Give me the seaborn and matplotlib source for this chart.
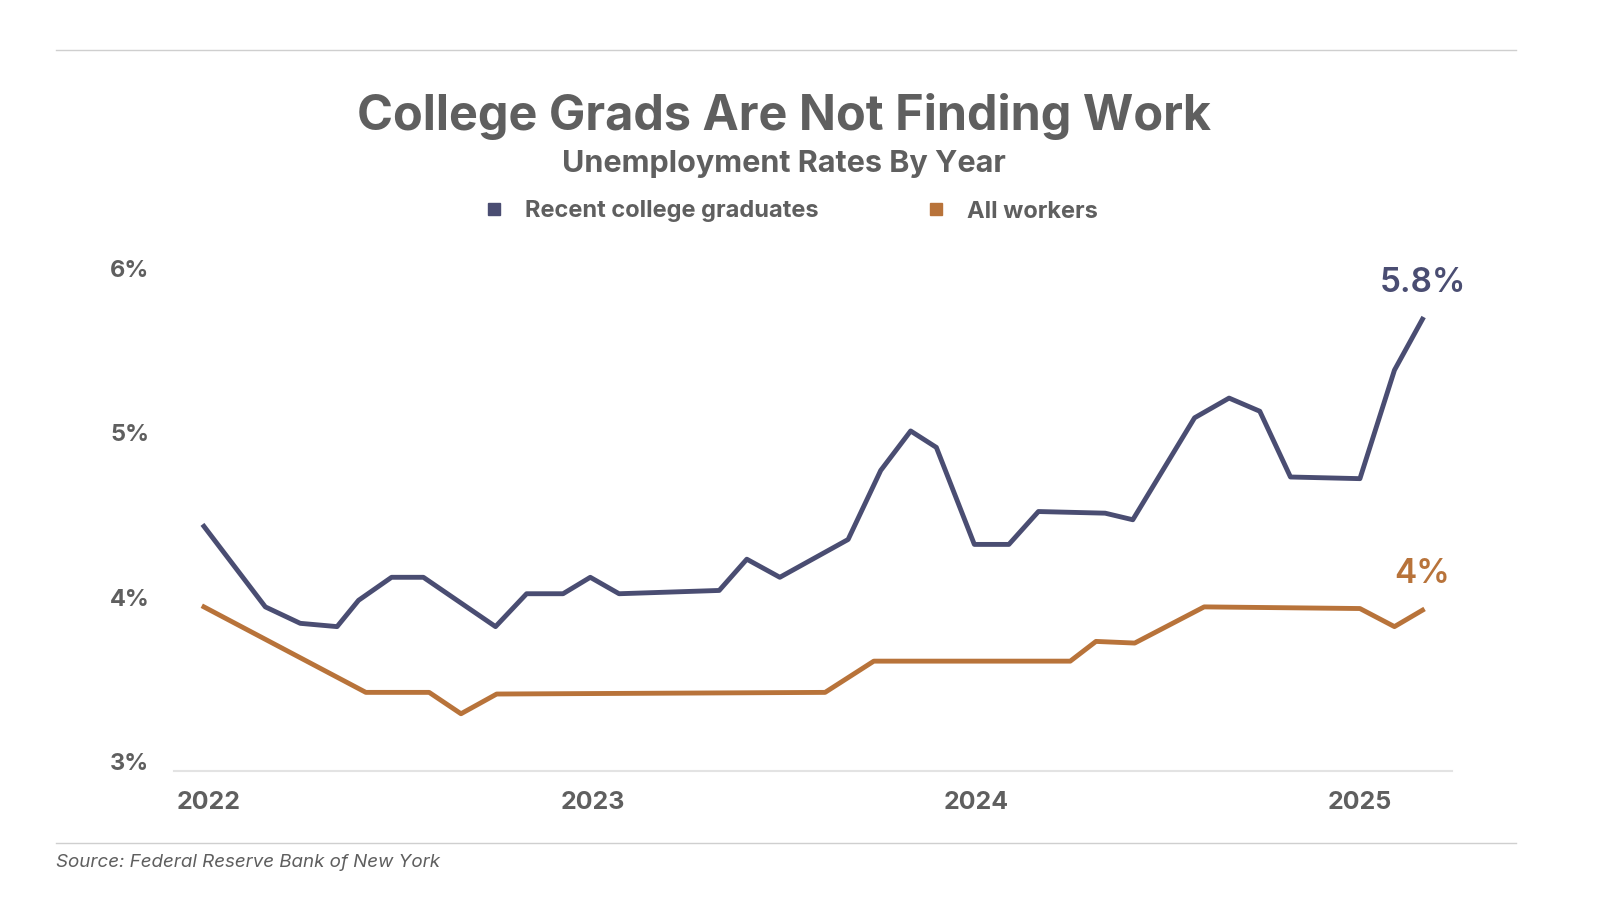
import matplotlib
matplotlib.use("Agg")
import matplotlib.pyplot as plt
import seaborn as sns
import pandas as pd
from matplotlib.lines import Line2D

grad_t = [2021.987, 2022.147, 2022.238, 2022.334, 2022.390, 2022.476, 2022.559, 2022.747, 2022.828, 2022.923,
          2022.994, 2023.069, 2023.330, 2023.402, 2023.488, 2023.666, 2023.751, 2023.829, 2023.896, 2023.995,
          2024.085, 2024.162, 2024.336, 2024.408, 2024.569, 2024.659, 2024.739, 2024.819, 2025.000, 2025.090, 2025.163]
grad_v = [4.43, 3.94, 3.84, 3.82, 3.98, 4.12, 4.12, 3.82, 4.02, 4.02,
          4.12, 4.02, 4.04, 4.23, 4.12, 4.35, 4.77, 5.01, 4.91, 4.32,
          4.32, 4.52, 4.51, 4.47, 5.09, 5.21, 5.13, 4.73, 4.72, 5.38, 5.69]
all_t = [2021.987, 2022.409, 2022.574, 2022.657, 2022.750, 2023.606, 2023.733, 2024.245, 2024.312,
         2024.413, 2024.594, 2025.000, 2025.090, 2025.163]
all_v = [3.94, 3.42, 3.42, 3.29, 3.41, 3.42, 3.61, 3.61, 3.73, 3.72, 3.94, 3.93, 3.82, 3.92]
yticks = [3, 4, 5, 6]
xticks = [2022, 2023, 2024, 2025]

NAVY = "#4a4d72"
ORANGE = "#b8733a"
GREY = "#5f5f5f"
plt.rcParams["font.family"] = "Inter"

df = pd.concat([
    pd.DataFrame({"t": grad_t, "v": grad_v, "s": "Recent college graduates"}),
    pd.DataFrame({"t": all_t, "v": all_v, "s": "All workers"}),
])

fig = plt.figure(figsize=(16, 9), dpi=100)
ax = fig.add_axes([0.109, 0.143, 0.7985, 0.559])
sns.lineplot(data=df, x="t", y="v", hue="s", palette=[NAVY, ORANGE], linewidth=3.5,
             ax=ax, legend=False, estimator=None, sort=False)
ax.set_ylim(2.94, 6.0)
ax.set_xlim(2021.91, 2025.24)
ax.set_yticks(yticks)
ax.set_yticklabels([f"{y}%" for y in yticks], fontsize=17, fontweight="bold", color=GREY)
ax.set_xticks(xticks)
ax.set_xticklabels([str(x) for x in xticks], fontsize=18, fontweight="bold", color=GREY)
ax.tick_params(length=0, pad=14)
ax.tick_params(axis="y", pad=18)
ax.set_xlabel(""); ax.set_ylabel("")
for s in ["top", "right", "left"]:
    ax.spines[s].set_visible(False)
ax.spines["bottom"].set_color("#e3e3e3")
ax.spines["bottom"].set_linewidth(1.5)

ax.text(grad_t[-1], grad_v[-1] + 0.12, "5.8%", color=NAVY, fontsize=24, fontweight="semibold", ha="center", va="bottom")
ax.text(all_t[-1], all_v[-1] + 0.12, "4%", color=ORANGE, fontsize=24, fontweight="semibold", ha="center", va="bottom")

fig.text(0.49, 0.87, "College Grads Are Not Finding Work", ha="center", va="center",
         fontsize=35, fontweight="bold", color=GREY)
fig.text(0.49, 0.818, "Unemployment Rates By Year", ha="center", va="center",
         fontsize=22, fontweight="bold", color=GREY)
handles = [Line2D([], [], color=NAVY, marker="s", linestyle="none", markersize=8),
           Line2D([], [], color=ORANGE, marker="s", linestyle="none", markersize=8)]
fig.legend(handles, ["Recent college graduates", "All workers"], loc="center", bbox_to_anchor=(0.49, 0.765),
           ncol=2, frameon=False, handletextpad=0.3, columnspacing=4,
           prop={"family": "Inter", "weight": "bold", "size": 17}, labelcolor=GREY)

fig.add_artist(Line2D([0.035, 0.9475], [0.945, 0.945], color="#cfcfcf", linewidth=1))
fig.add_artist(Line2D([0.035, 0.9475], [0.063, 0.063], color="#cfcfcf", linewidth=1))
fig.text(0.035, 0.042, "Source: Federal Reserve Bank of New York", ha="left", va="center",
         fontsize=13.5, style="italic", color=GREY)

fig.savefig("out.png", dpi=100, facecolor="white")
